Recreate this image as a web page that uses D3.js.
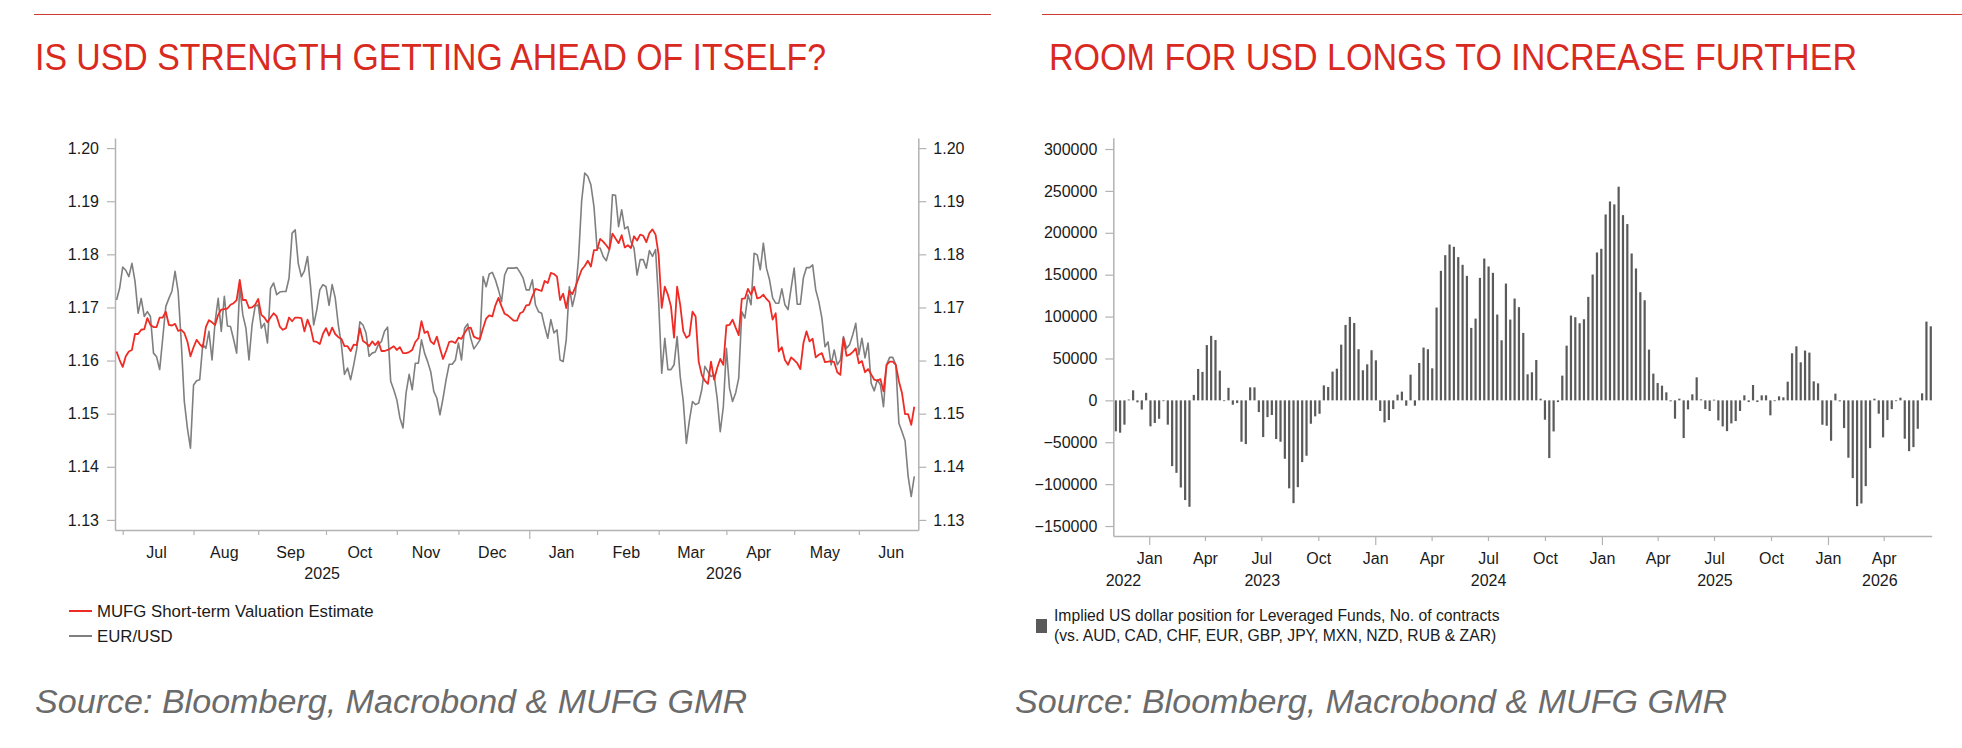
<!DOCTYPE html>
<html>
<head>
<meta charset="utf-8">
<script src="https://cdn.jsdelivr.net/npm/d3@7"></script>
<style>
  html, body { margin: 0; padding: 0; background: #fff; }
  svg text { font-family: "Liberation Sans", Arial, Helvetica, sans-serif; }
</style>
</head>
<body>
<div id="root"></div>
<script>
// ---- left panel: daily (business days) from 27 Jun 2025
var fxStart = "2025-06-27";
var calEnd = "2026-06-30";
var eurusd = [
  1.1714, 1.1736, 1.1776, 1.1770, 1.1758, 1.1783, 1.1749, 1.1689, 1.1717, 1.1683,
  1.1692, 1.1683, 1.1614, 1.1607, 1.1583, 1.1642, 1.1702, 1.1717, 1.1731, 1.1768,
  1.1730, 1.1636, 1.1523, 1.1473, 1.1435, 1.1554, 1.1562, 1.1564, 1.1630, 1.1623,
  1.1655, 1.1601, 1.1673, 1.1717, 1.1655, 1.1721, 1.1665, 1.1664, 1.1640, 1.1614,
  1.1739, 1.1686, 1.1661, 1.1601, 1.1667, 1.1702, 1.1705, 1.1661, 1.1670, 1.1633,
  1.1736, 1.1746, 1.1724, 1.1729, 1.1730, 1.1730, 1.1755, 1.1840, 1.1846, 1.1783,
  1.1758, 1.1769, 1.1796, 1.1739, 1.1667, 1.1695, 1.1733, 1.1743, 1.1739, 1.1704,
  1.1743, 1.1718, 1.1667, 1.1630, 1.1574, 1.1586, 1.1564, 1.1592, 1.1623, 1.1673,
  1.1667, 1.1652, 1.1608, 1.1614, 1.1616, 1.1630, 1.1636, 1.1655, 1.1663, 1.1561,
  1.1545, 1.1526, 1.1492, 1.1473, 1.1539, 1.1574, 1.1545, 1.1595, 1.1595, 1.1639,
  1.1614, 1.1598, 1.1579, 1.1542, 1.1529, 1.1498, 1.1529, 1.1564, 1.1593, 1.1593,
  1.1601, 1.1633, 1.1601, 1.1661, 1.1669, 1.1642, 1.1622, 1.1630, 1.1639, 1.1758,
  1.1739, 1.1763, 1.1766, 1.1752, 1.1733, 1.1711, 1.1761, 1.1774, 1.1774, 1.1774,
  1.1775, 1.1766, 1.1755, 1.1733, 1.1733, 1.1752, 1.1705, 1.1692, 1.1689, 1.1664,
  1.1642, 1.1677, 1.1652, 1.1658, 1.1601, 1.1598, 1.1639, 1.1739, 1.1702, 1.1727,
  1.1793, 1.1900, 1.1953, 1.1947, 1.1931, 1.1890, 1.1812, 1.1812, 1.1796, 1.1788,
  1.1809, 1.1912, 1.1911, 1.1852, 1.1884, 1.1848, 1.1852, 1.1824, 1.1812, 1.1761,
  1.1790, 1.1790, 1.1774, 1.1807, 1.1796, 1.1809, 1.1711, 1.1576, 1.1642, 1.1583,
  1.1583, 1.1592, 1.1645, 1.1570, 1.1523, 1.1444, 1.1488, 1.1523, 1.1517, 1.1520,
  1.1545, 1.1589, 1.1579, 1.1570, 1.1573, 1.1529, 1.1466, 1.1513, 1.1623, 1.1548,
  1.1523, 1.1539, 1.1567, 1.1692, 1.1680, 1.1724, 1.1705, 1.1802, 1.1799, 1.1771,
  1.1821, 1.1774, 1.1752, 1.1718, 1.1708, 1.1708, 1.1735, 1.1705, 1.1696, 1.1736,
  1.1774, 1.1706, 1.1706, 1.1756, 1.1775, 1.1775, 1.1780, 1.1733, 1.1711, 1.1680,
  1.1626, 1.1635, 1.1592, 1.1620, 1.1592, 1.1601, 1.1645, 1.1623, 1.1630, 1.1648,
  1.1670, 1.1611, 1.1642, 1.1605, 1.1633, 1.1557, 1.1543, 1.1564, 1.1554, 1.1513,
  1.1592, 1.1606, 1.1606, 1.1592, 1.1482, 1.1466, 1.1449, 1.1382, 1.1344, 1.1382
];
var mufgEstimate = [
  1.1617, 1.1601, 1.1588, 1.1608, 1.1617, 1.1620, 1.1650, 1.1650, 1.1658, 1.1659,
  1.1680, 1.1667, 1.1663, 1.1663, 1.1681, 1.1681, 1.1692, 1.1667, 1.1666, 1.1669,
  1.1656, 1.1658, 1.1652, 1.1636, 1.1608, 1.1625, 1.1639, 1.1631, 1.1625, 1.1663,
  1.1676, 1.1672, 1.1667, 1.1686, 1.1696, 1.1697, 1.1698, 1.1705, 1.1708, 1.1714,
  1.1752, 1.1714, 1.1714, 1.1699, 1.1700, 1.1705, 1.1716, 1.1686, 1.1681, 1.1672,
  1.1681, 1.1689, 1.1683, 1.1664, 1.1658, 1.1661, 1.1681, 1.1674, 1.1681, 1.1681,
  1.1680, 1.1655, 1.1677, 1.1662, 1.1636, 1.1635, 1.1631, 1.1650, 1.1661, 1.1647,
  1.1662, 1.1650, 1.1644, 1.1641, 1.1627, 1.1627, 1.1618, 1.1630, 1.1629, 1.1661,
  1.1637, 1.1633, 1.1627, 1.1636, 1.1629, 1.1636, 1.1618, 1.1618, 1.1620, 1.1623,
  1.1627, 1.1620, 1.1625, 1.1614, 1.1614, 1.1616, 1.1620, 1.1635, 1.1642, 1.1674,
  1.1652, 1.1655, 1.1636, 1.1631, 1.1645, 1.1623, 1.1603, 1.1618, 1.1635, 1.1636,
  1.1633, 1.1643, 1.1641, 1.1652, 1.1661, 1.1662, 1.1645, 1.1642, 1.1641, 1.1661,
  1.1679, 1.1685, 1.1683, 1.1704, 1.1718, 1.1702, 1.1688, 1.1685, 1.1680, 1.1675,
  1.1675, 1.1689, 1.1692, 1.1704, 1.1705, 1.1721, 1.1735, 1.1733, 1.1731, 1.1750,
  1.1746, 1.1765, 1.1763, 1.1758, 1.1714, 1.1726, 1.1699, 1.1731, 1.1725, 1.1739,
  1.1755, 1.1771, 1.1778, 1.1788, 1.1777, 1.1808, 1.1808, 1.1829, 1.1824, 1.1817,
  1.1809, 1.1839, 1.1830, 1.1821, 1.1836, 1.1813, 1.1817, 1.1812, 1.1834, 1.1826,
  1.1837, 1.1835, 1.1823, 1.1840, 1.1847, 1.1837, 1.1799, 1.1699, 1.1739, 1.1724,
  1.1702, 1.1643, 1.1739, 1.1705, 1.1655, 1.1643, 1.1647, 1.1692, 1.1683, 1.1598,
  1.1573, 1.1562, 1.1556, 1.1598, 1.1564, 1.1586, 1.1603, 1.1592, 1.1666, 1.1667,
  1.1677, 1.1662, 1.1648, 1.1716, 1.1717, 1.1735, 1.1724, 1.1739, 1.1717, 1.1719,
  1.1724, 1.1716, 1.1710, 1.1677, 1.1689, 1.1617, 1.1625, 1.1601, 1.1592, 1.1606,
  1.1601, 1.1595, 1.1584, 1.1633, 1.1655, 1.1636, 1.1641, 1.1606, 1.1611, 1.1614,
  1.1597, 1.1598, 1.1599, 1.1597, 1.1578, 1.1573, 1.1642, 1.1609, 1.1611, 1.1616,
  1.1623, 1.1595, 1.1599, 1.1578, 1.1584, 1.1574, 1.1564, 1.1562, 1.1565, 1.1542,
  1.1592, 1.1598, 1.1598, 1.1592, 1.1561, 1.1539, 1.1499, 1.1499, 1.1479, 1.1513
];
var leftTicks = [1.13, 1.14, 1.15, 1.16, 1.17, 1.18, 1.19, 1.20];

// ---- right panel: weekly from 8 Nov 2022
var posStart = "2022-11-08";
var usdPosition = [
  -37000, -38600, -29000, 1000, 12000, -2400, -11000, 9000, -31000, -27000,
  -22000, -500, -29000, -78500, -86500, -104000, -119000, -127000, 6500, 37500,
  34000, 66000, 77000, 72000, 35500, 0, 15000, -5200, -3200, -49400,
  -52200, 15500, 15500, -14000, -43800, -20000, -17500, -46200, -49400, -69700,
  -105000, -122700, -103600, -73700, -66100, -27900, -19100, -16000, 17900, 15900,
  34300, 37800, 66500, 90000, 99600, 92400, 61000, 35900, 43000, 59800,
  47800, -12700, -26300, -23500, -10400, 6800, 10400, -6400, 30700, -6400,
  44600, 63000, 61000, 38200, 110800, 154600, 173300, 186000, 183300, 171000,
  161800, 148600, 86500, 97600, 146200, 169300, 159800, 152200, 102400, 71700,
  139400, 96400, 121500, 111200, 80500, 31100, 33500, 48200, 2000, -23100,
  -68900, -37100, -2000, 29500, 65300, 101200, 99200, 92000, 96800, 123500,
  150200, 176500, 180900, 221900, 237400, 233900, 255000, 221100, 210400, 175300,
  157400, 129100, 119500, 60600, 31900, 20700, 17500, 9600, -1200, -21900,
  2000, -45000, -10800, 7200, 27500, 1200, -10400, -12700, 800, -23900,
  -31100, -36700, -27500, -24700, -12700, 6000, -2000, 18300, -2000, 6000,
  6000, -17900, 0, 4800, 3600, 22300, 56200, 64500, 45400, 59400,
  57000, 22700, 20300, -29100, -30300, -48200, 8000, -1200, -33100, -68500,
  -92800, -126300, -123100, -102400, -57000, 2000, -15900, -44200, -23500, -10400,
  0, 3200, -45800, -60600, -55800, -33900, 8400, 94000, 88400
];
var rightTicks = [-150000, -100000, -50000, 0, 50000, 100000, 150000, 200000, 250000, 300000];

var leftTitle = "IS USD STRENGTH GETTING AHEAD OF ITSELF?";
var rightTitle = "ROOM FOR USD LONGS TO INCREASE FURTHER";
var sourceText = "Source: Bloomberg, Macrobond & MUFG GMR";
var leftLegend = ["MUFG Short-term Valuation Estimate", "EUR/USD"];
var rightLegend = ["Implied US dollar position for Leveraged Funds, No. of contracts",
                   "(vs. AUD, CAD, CHF, EUR, GBP, JPY, MXN, NZD, RUB & ZAR)"];

var RED = "#ee2b24", GREY_LINE = "#7f7f7f", BAR = "#5a5a5a", AXIS = "#b3b3b3",
    TXT = "#1a1a1a", TITLE = "#d92a1f";

var svg = d3.select("#root").append("svg")
    .attr("width", 1962).attr("height", 748);

// header rules + titles
svg.append("line").attr("x1", 34).attr("x2", 991).attr("y1", 14.5).attr("y2", 14.5)
    .attr("stroke", "#cf3a30").attr("stroke-width", 1.2);
svg.append("line").attr("x1", 1042).attr("x2", 1962).attr("y1", 14.5).attr("y2", 14.5)
    .attr("stroke", "#cf3a30").attr("stroke-width", 1.2);
svg.append("text").attr("x", 35).attr("y", 70).text(leftTitle)
    .attr("fill", TITLE).attr("font-size", 37)
    .attr("textLength", 791).attr("lengthAdjust", "spacingAndGlyphs");
svg.append("text").attr("x", 1049).attr("y", 70).text(rightTitle)
    .attr("fill", TITLE).attr("font-size", 37)
    .attr("textLength", 808).attr("lengthAdjust", "spacingAndGlyphs");

// sources
[35, 1015].forEach(function (x) {
    svg.append("text").attr("x", x).attr("y", 713).text(sourceText)
        .attr("fill", "#6b6b6b").attr("font-size", 34).attr("font-style", "italic")
        .attr("textLength", 712).attr("lengthAdjust", "spacingAndGlyphs");
});

function styleAxis(g) {
    g.attr("font-family", null).attr("font-size", 16);
    g.select(".domain").attr("stroke", AXIS).attr("stroke-width", 1.5);
    g.selectAll(".tick line").attr("stroke", AXIS).attr("stroke-width", 1.2);
    g.selectAll(".tick text").attr("fill", TXT);
}

// ================= LEFT PANEL =================
var parse = d3.utcParse("%Y-%m-%d");
var calDays = d3.utcDay.range(parse(fxStart), d3.utcDay.offset(parse(calEnd), 1))
    .filter(function (d) { return d.getUTCDay() % 6 !== 0; });

var xL = d3.scaleLinear().domain([-0.5, 260.3]).range([115, 918.3]);
var yL = d3.scaleLinear().domain([1.1281, 1.2019]).range([530, 138]);

// month starts (business-day index)
var monthStarts = [];
for (var i = 1; i < calDays.length; i++) {
    if (calDays[i].getUTCMonth() !== calDays[i - 1].getUTCMonth()) monthStarts.push(i);
}

var gyl = svg.append("g").attr("transform", "translate(115,0)")
    .call(d3.axisLeft(yL).tickValues(leftTicks).tickFormat(d3.format(".2f"))
        .tickSize(8).tickPadding(8).tickSizeOuter(0));
styleAxis(gyl);
var gyr = svg.append("g").attr("transform", "translate(918.3,0)")
    .call(d3.axisRight(yL).tickValues(leftTicks).tickFormat(d3.format(".2f"))
        .tickSize(8).tickPadding(7).tickSizeOuter(0));
styleAxis(gyr);
var gxl = svg.append("g").attr("transform", "translate(0,530)")
    .call(d3.axisBottom(xL).tickValues(monthStarts).tickFormat("")
        .tickSize(5).tickSizeOuter(0));
styleAxis(gxl);
gxl.selectAll(".tick line").attr("y2", function (d) {
    return calDays[d].getUTCMonth() === 0 ? 9 : 5;
});

// month labels centred on the month
var monthFmt = d3.utcFormat("%b");
monthStarts.forEach(function (s, k) {
    var e = k + 1 < monthStarts.length ? monthStarts[k + 1] : calDays.length;
    svg.append("text").attr("x", xL(s + (e - s - 1) / 2)).attr("y", 558)
        .attr("text-anchor", "middle").attr("font-size", 16).attr("fill", TXT)
        .text(monthFmt(calDays[s]));
});
// year labels
var janIdx = monthStarts.filter(function (s) { return calDays[s].getUTCMonth() === 0; });
var yb = [xL.range()[0]].concat(janIdx.map(function (s) { return xL(s); }), [xL.range()[1]]);
var firstYear = calDays[0].getUTCFullYear();
for (var k = 0; k < yb.length - 1; k++) {
    svg.append("text").attr("x", (yb[k] + yb[k + 1]) / 2).attr("y", 579)
        .attr("text-anchor", "middle").attr("font-size", 16).attr("fill", TXT)
        .text(firstYear + k);
}

var lineL = d3.line().x(function (d, i) { return xL(i); }).y(function (d) { return yL(d); });
svg.append("path").datum(eurusd).attr("d", lineL)
    .attr("fill", "none").attr("stroke", GREY_LINE).attr("stroke-width", 1.6)
    .attr("stroke-linejoin", "round");
svg.append("path").datum(mufgEstimate).attr("d", lineL)
    .attr("fill", "none").attr("stroke", RED).attr("stroke-width", 1.8)
    .attr("stroke-linejoin", "round");

// legend
[[RED, 611], [GREY_LINE, 636]].forEach(function (it, k) {
    svg.append("line").attr("x1", 69).attr("x2", 92).attr("y1", it[1]).attr("y2", it[1])
        .attr("stroke", it[0]).attr("stroke-width", 2);
    svg.append("text").attr("x", 97).attr("y", it[1] + 6).attr("font-size", 16.8)
        .attr("fill", TXT).text(leftLegend[k]);
});

// ================= RIGHT PANEL =================
var posDates = usdPosition.map(function (v, i) { return d3.utcDay.offset(parse(posStart), 7 * i); });
var xR = d3.scaleUtc().domain([parse("2022-11-04"), new Date(Date.UTC(2026, 5, 17, 12))])
    .range([1113.3, 1931.7]);
var yR = d3.scaleLinear().domain([-161900, 313500]).range([536, 137.7]);

svg.append("g").selectAll("rect").data(usdPosition).enter().append("rect")
    .attr("x", function (d, i) { return xR(posDates[i]) - 1.1; })
    .attr("width", 2.2)
    .attr("y", function (d) { return yR(Math.max(0, d)); })
    .attr("height", function (d) { return Math.max(0.8, Math.abs(yR(d) - yR(0))); })
    .attr("fill", BAR);

var gyR = svg.append("g").attr("transform", "translate(1113.3,0)")
    .call(d3.axisLeft(yR).tickValues(rightTicks).tickFormat(d3.format("d"))
        .tickSize(8).tickPadding(8).tickSizeOuter(0));
styleAxis(gyR);
var gxR = svg.append("g").attr("transform", "translate(0,536)")
    .call(d3.axisBottom(xR).ticks(d3.utcMonth.every(3)).tickFormat(d3.utcFormat("%b"))
        .tickSize(5).tickPadding(12).tickSizeOuter(0));
styleAxis(gxR);
gxR.selectAll(".tick line").attr("y2", function (d) { return d.getUTCMonth() === 0 ? 9 : 5; });

var jans = xR.ticks(d3.utcYear.every(1));
var rb = [xR.range()[0]].concat(jans.map(xR), [xR.range()[1]]);
var y0 = xR.domain()[0].getUTCFullYear();
for (var k2 = 0; k2 < rb.length - 1; k2++) {
    var cx = (rb[k2] + rb[k2 + 1]) / 2, anchor = "middle";
    if (rb[k2 + 1] - rb[k2] < 60) { cx = rb[k2 + 1] - 8; anchor = "end"; }
    svg.append("text").attr("x", cx).attr("y", 586).attr("text-anchor", anchor)
        .attr("font-size", 16).attr("fill", TXT).text(y0 + k2);
}

// legend
svg.append("rect").attr("x", 1036).attr("y", 619).attr("width", 11).attr("height", 14)
    .attr("fill", BAR);
rightLegend.forEach(function (t, k) {
    svg.append("text").attr("x", 1054).attr("y", 621 + 20 * k).attr("font-size", 15.7)
        .attr("fill", TXT).text(t);
});
</script>
</body>
</html>
